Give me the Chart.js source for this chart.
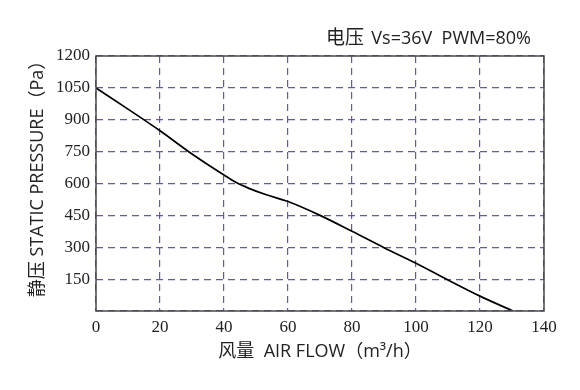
<!DOCTYPE html>
<html lang="zh">
  <head>
    <meta charset="utf-8" />
    <title>Static Pressure vs Air Flow</title>
    <style>
      body { margin: 0; background: #fff; }
    </style>
  </head>
  <body>
    <div>
      <canvas id="canvas" width="580" height="390"></canvas>
    </div>

    <script src="https://cdn.jsdelivr.net/npm/chart.js"></script>

    <script>
      // air flow (m3/h) and static pressure (Pa)
      const airFlow = [0, 10, 20, 30, 40, 44, 48, 53, 60, 70, 80, 90, 100, 110, 120, 130.3];
      const pressure = [1050, 950, 848, 739, 640, 603, 576, 548, 515, 450, 375, 298, 225, 146, 70, 0];

      const xTicks = [0, 20, 40, 60, 80, 100, 120, 140];
      const yTicks = [150, 300, 450, 600, 750, 900, 1050, 1200];

      const titleCn = "电压";
      const titleEn = "Vs=36V  PWM=80%";
      const xTitle = "风量  AIR FLOW（m³/h）";
      const yTitle = "\u3000静压 STATIC PRESSURE（Pa）";

      const sans = "'Open Sans', 'Noto Sans CJK SC', sans-serif";
      const serif = "'Liberation Serif', 'DejaVu Serif', serif";
      const gridColor = "#5e5e9c";

      // solid frame around the plot + the heading text
      const frame = {
        id: "frame",
        afterDraw(chart) {
          const { ctx, chartArea: a } = chart;
          ctx.save();
          ctx.strokeStyle = "#4a4a4a";
          ctx.lineWidth = 1.5;
          ctx.strokeRect(a.left, a.top, a.right - a.left, a.bottom - a.top);
          ctx.fillStyle = "#222";
          ctx.textBaseline = "middle";
          ctx.textAlign = "left";
          ctx.font = "19px " + sans;
          ctx.fillText(titleCn, 326, 39);
          ctx.textAlign = "right";
          ctx.font = "18px " + sans;
          ctx.fillText(titleEn, 531, 39);
          ctx.restore();
        },
      };

      new Chart(document.getElementById("canvas"), {
        type: "line",
        data: {
          datasets: [
            {
              data: airFlow.map((x, i) => ({ x: x, y: pressure[i] })),
              borderColor: "#000",
              borderWidth: 1.7,
              pointRadius: 0,
              cubicInterpolationMode: "monotone",
              fill: false,
            },
          ],
        },
        options: {
          responsive: false,
          animation: false,
          layout: { padding: { top: 56, right: 36, left: 0, bottom: 0 } },
          plugins: { legend: { display: false }, tooltip: { enabled: false } },
          scales: {
            x: {
              type: "linear",
              min: 0,
              max: 140,
              afterBuildTicks: (s) => { s.ticks = xTicks.map((v) => ({ value: v })); },
              afterFit: (s) => { s.height = 79; },
              ticks: { font: { family: serif, size: 17 }, color: "#222", padding: 6, maxRotation: 0 },
              grid: { color: gridColor, lineWidth: 1.2, drawTicks: false },
              border: { display: false, dash: [7, 5] },
              title: {
                display: true,
                text: xTitle,
                font: { family: sans, size: 18 },
                color: "#222",
                padding: { bottom: 27 },
              },
            },
            y: {
              min: 0,
              max: 1200,
              afterBuildTicks: (s) => { s.ticks = [0].concat(yTicks).map((v) => ({ value: v })); },
              afterFit: (s) => { s.width = 96; },
              ticks: {
                font: { family: serif, size: 17 },
                color: "#222",
                padding: 6,
                callback: (v) => (v === 0 ? "" : v),
              },
              grid: { color: gridColor, lineWidth: 1.2, drawTicks: false },
              border: { display: false, dash: [7, 5] },
              title: {
                display: true,
                text: yTitle,
                font: { family: sans, size: 18 },
                color: "#222",
                padding: { top: 27 },
              },
            },
          },
        },
        plugins: [frame],
      });
    </script>
  </body>
</html>
